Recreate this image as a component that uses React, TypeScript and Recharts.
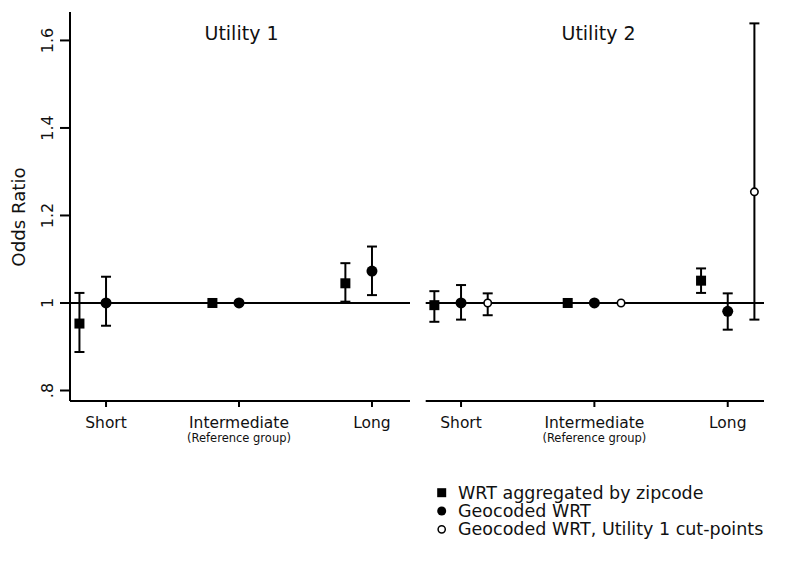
import React from 'react';
import { ScatterChart, Scatter, XAxis, YAxis, ErrorBar, ReferenceLine, Legend } from 'recharts';

const categories = ['Short', 'Intermediate', 'Long'];
const categorySubLabels = ['', '(Reference group)', ''];
const yTicks = [0.8, 1.0, 1.2, 1.4, 1.6];
const yTickLabels = ['.8', '1', '1.2', '1.4', '1.6'];
const seriesNames = ['WRT aggregated by zipcode', 'Geocoded WRT', 'Geocoded WRT, Utility 1 cut-points'];
const panelTitles = ['Utility 1', 'Utility 2'];

// Utility 1
const u1ZipEst = [0.953, 1.0, 1.045];
const u1ZipLow: (number | null)[] = [0.888, null, 1.003];
const u1ZipHigh: (number | null)[] = [1.023, null, 1.091];
const u1GeoEst = [1.0, 1.0, 1.073];
const u1GeoLow: (number | null)[] = [0.948, null, 1.018];
const u1GeoHigh: (number | null)[] = [1.06, null, 1.129];

// Utility 2
const u2ZipEst = [0.995, 1.0, 1.051];
const u2ZipLow: (number | null)[] = [0.957, null, 1.023];
const u2ZipHigh: (number | null)[] = [1.027, null, 1.079];
const u2GeoEst = [1.0, 1.0, 0.981];
const u2GeoLow: (number | null)[] = [0.962, null, 0.939];
const u2GeoHigh: (number | null)[] = [1.041, null, 1.022];
const u2CutEst = [1.0, 1.0, 1.254];
const u2CutLow: (number | null)[] = [0.972, null, 0.962];
const u2CutHigh: (number | null)[] = [1.022, null, 1.639];

const FONT = '"DejaVu Sans", sans-serif';

function build(est: number[], low: (number | null)[], high: (number | null)[], offset: number) {
  return est.map((y, i) => ({
    x: i + 1 + offset,
    y,
    err: low[i] == null || high[i] == null ? null : [y - (low[i] as number), (high[i] as number) - y],
  }));
}

const SquareShape = (p: any) => <rect x={p.cx - 5} y={p.cy - 5} width={10} height={10} fill="#000" />;
const CircleShape = (p: any) => <circle cx={p.cx} cy={p.cy} r={5.5} fill="#000" />;
const OpenShape = (p: any) => <circle cx={p.cx} cy={p.cy} r={3.7} fill="#fff" stroke="#000" strokeWidth={1.6} />;

const XTick = (props: any) => {
  const { x, y, payload } = props;
  const idx = Math.round(payload.value) - 1;
  return (
    <g>
      <text x={x} y={y + 19} textAnchor="middle" fontFamily={FONT} fontSize={15.5} fill="#111">
        {categories[idx]}
      </text>
      {categorySubLabels[idx] ? (
        <text x={x} y={y + 33} textAnchor="middle" fontFamily={FONT} fontSize={11.5} fill="#111">
          {categorySubLabels[idx]}
        </text>
      ) : null}
    </g>
  );
};

const YTick = (props: any) => {
  const { x, y, payload } = props;
  const idx = yTicks.findIndex((t) => Math.abs(t - payload.value) < 1e-6);
  return (
    <text x={x} y={y} transform={`rotate(-90, ${x}, ${y})`} textAnchor="middle" fontFamily={FONT} fontSize={16} fill="#111">
      {idx >= 0 ? yTickLabels[idx] : ''}
    </text>
  );
};

const legendMarkers = [
  (cx: number, cy: number) => <rect x={cx - 4.5} y={cy - 4.5} width={9} height={9} fill="#000" />,
  (cx: number, cy: number) => <circle cx={cx} cy={cy} r={4.5} fill="#000" />,
  (cx: number, cy: number) => <circle cx={cx} cy={cy} r={3.6} fill="#fff" stroke="#000" strokeWidth={1.5} />,
];

const LegendContent = () => (
  <svg width={360} height={70}>
    {seriesNames.map((name, i) => (
      <g key={name}>
        {legendMarkers[i](9.7, 12.7 + i * 18.3)}
        <text x={26} y={18.7 + i * 18.3} fontFamily={FONT} fontSize={17.5} fill="#111">
          {name}
        </text>
      </g>
    ))}
  </svg>
);

const axisStroke = { stroke: '#000', strokeWidth: 2 };
const Y_DOMAIN: [number, number] = [0.776, 1.665];

export default function App() {
  const u1Zip = build(u1ZipEst, u1ZipLow, u1ZipHigh, -0.2);
  const u1Geo = build(u1GeoEst, u1GeoLow, u1GeoHigh, 0);
  const u2Zip = build(u2ZipEst, u2ZipLow, u2ZipHigh, -0.2);
  const u2Geo = build(u2GeoEst, u2GeoLow, u2GeoHigh, 0);
  const u2Cut = build(u2CutEst, u2CutLow, u2CutHigh, 0.2);

  return (
    <div style={{ position: 'fixed', left: 0, top: 0, width: 788, height: 561, background: '#fff' }}>
      {/* Odds Ratio label */}
      <svg style={{ position: 'absolute', left: 0, top: 0 }} width={788} height={60}>
        <text x={241.5} y={39.5} textAnchor="middle" fontFamily={FONT} fontSize={19} fill="#111">
          {panelTitles[0]}
        </text>
        <text x={598.5} y={39.5} textAnchor="middle" fontFamily={FONT} fontSize={19} fill="#111">
          {panelTitles[1]}
        </text>
      </svg>
      <div style={{ position: 'absolute', left: 0, top: 0 }}>
        <ScatterChart width={420} height={460} margin={{ top: 12, right: 10, bottom: 9, left: 10 }}>
          <XAxis
            type="number"
            dataKey="x"
            domain={[0.729, 3.286]}
            ticks={[1, 2, 3]}
            allowDataOverflow
            axisLine={axisStroke}
            tickLine={axisStroke}
            tickSize={6}
            tickMargin={2}
            height={50}
            tick={<XTick />}
          />
          <YAxis
            type="number"
            dataKey="y"
            domain={Y_DOMAIN}
            ticks={yTicks}
            allowDataOverflow
            axisLine={axisStroke}
            tickLine={axisStroke}
            tickSize={10}
            tickMargin={7}
            width={60}
            tick={<YTick />}
            label={{
              value: 'Odds Ratio',
              angle: -90,
              position: 'insideLeft',
              content: (p: any) => (
                <text x={25} y={217} transform="rotate(-90, 25, 217)" textAnchor="middle" fontFamily={FONT} fontSize={18.2} fill="#111">
                  Odds Ratio
                </text>
              ),
            }}
          />
          <ReferenceLine y={1} stroke="#000" strokeWidth={2} />
          <Scatter name={seriesNames[0]} data={u1Zip} shape={SquareShape} isAnimationActive={false}>
            <ErrorBar dataKey="err" direction="y" width={5} stroke="#000" strokeWidth={2} isAnimationActive={false} />
          </Scatter>
          <Scatter name={seriesNames[1]} data={u1Geo} shape={CircleShape} isAnimationActive={false}>
            <ErrorBar dataKey="err" direction="y" width={5} stroke="#000" strokeWidth={2} isAnimationActive={false} />
          </Scatter>
        </ScatterChart>
      </div>
      <div style={{ position: 'absolute', left: 410, top: 0 }}>
        <ScatterChart width={378} height={561} margin={{ top: 12, right: 24, bottom: 110, left: 15.7 }}>
          <XAxis
            type="number"
            dataKey="x"
            domain={[0.735, 3.272]}
            ticks={[1, 2, 3]}
            allowDataOverflow
            axisLine={axisStroke}
            tickLine={axisStroke}
            tickSize={6}
            tickMargin={2}
            height={50}
            tick={<XTick />}
          />
          <YAxis type="number" dataKey="y" domain={Y_DOMAIN} ticks={yTicks} allowDataOverflow hide />
          <ReferenceLine y={1} stroke="#000" strokeWidth={2} />
          <Scatter name={seriesNames[0]} data={u2Zip} shape={SquareShape} isAnimationActive={false}>
            <ErrorBar dataKey="err" direction="y" width={5} stroke="#000" strokeWidth={2} isAnimationActive={false} />
          </Scatter>
          <Scatter name={seriesNames[1]} data={u2Geo} shape={CircleShape} isAnimationActive={false}>
            <ErrorBar dataKey="err" direction="y" width={5} stroke="#000" strokeWidth={2} isAnimationActive={false} />
          </Scatter>
          <Scatter name={seriesNames[2]} data={u2Cut} shape={OpenShape} isAnimationActive={false}>
            <ErrorBar dataKey="err" direction="y" width={5} stroke="#000" strokeWidth={2} isAnimationActive={false} />
          </Scatter>
          <Legend
            layout="vertical"
            align="center"
            verticalAlign="middle"
            wrapperStyle={{ left: 22, top: 480, width: 360, height: 70 }}
            content={() => <LegendContent />}
          />
        </ScatterChart>
      </div>
    </div>
  );
}
